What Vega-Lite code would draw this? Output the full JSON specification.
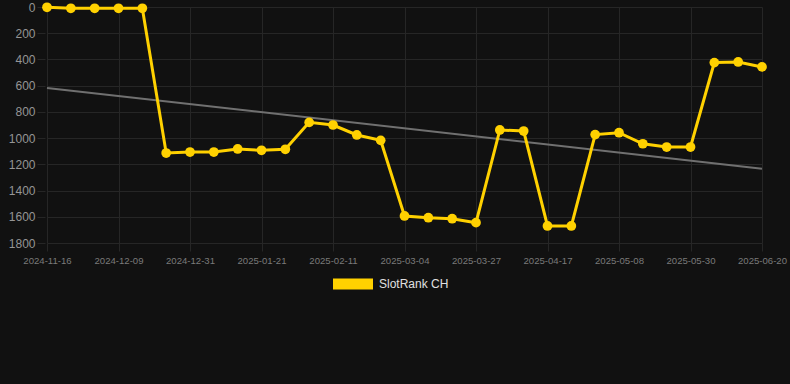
{
  "$schema": "https://vega.github.io/schema/vega-lite/v6.json",
  "autosize": "none",
  "width": 745,
  "height": 236,
  "padding": {"left": 45, "top": 7, "right": 0, "bottom": 141},
  "background": "#111111",
  "datasets": {
    "ranks": [
      {"date": "2024-11-16", "rank": 2, "series": "SlotRank CH"},
      {"date": "2024-11-24", "rank": 10, "series": "SlotRank CH"},
      {"date": "2024-12-01", "rank": 10, "series": "SlotRank CH"},
      {"date": "2024-12-09", "rank": 10, "series": "SlotRank CH"},
      {"date": "2024-12-16", "rank": 10, "series": "SlotRank CH"},
      {"date": "2024-12-23", "rank": 1114, "series": "SlotRank CH"},
      {"date": "2024-12-31", "rank": 1106, "series": "SlotRank CH"},
      {"date": "2025-01-07", "rank": 1106, "series": "SlotRank CH"},
      {"date": "2025-01-14", "rank": 1083, "series": "SlotRank CH"},
      {"date": "2025-01-21", "rank": 1093, "series": "SlotRank CH"},
      {"date": "2025-01-28", "rank": 1085, "series": "SlotRank CH"},
      {"date": "2025-02-04", "rank": 880, "series": "SlotRank CH"},
      {"date": "2025-02-11", "rank": 900, "series": "SlotRank CH"},
      {"date": "2025-02-18", "rank": 976, "series": "SlotRank CH"},
      {"date": "2025-02-25", "rank": 1017, "series": "SlotRank CH"},
      {"date": "2025-03-04", "rank": 1594, "series": "SlotRank CH"},
      {"date": "2025-03-12", "rank": 1607, "series": "SlotRank CH"},
      {"date": "2025-03-19", "rank": 1615, "series": "SlotRank CH"},
      {"date": "2025-03-27", "rank": 1645, "series": "SlotRank CH"},
      {"date": "2025-04-03", "rank": 938, "series": "SlotRank CH"},
      {"date": "2025-04-10", "rank": 946, "series": "SlotRank CH"},
      {"date": "2025-04-17", "rank": 1670, "series": "SlotRank CH"},
      {"date": "2025-04-24", "rank": 1670, "series": "SlotRank CH"},
      {"date": "2025-05-01", "rank": 973, "series": "SlotRank CH"},
      {"date": "2025-05-08", "rank": 959, "series": "SlotRank CH"},
      {"date": "2025-05-15", "rank": 1043, "series": "SlotRank CH"},
      {"date": "2025-05-22", "rank": 1068, "series": "SlotRank CH"},
      {"date": "2025-05-30", "rank": 1068, "series": "SlotRank CH"},
      {"date": "2025-06-06", "rank": 424, "series": "SlotRank CH"},
      {"date": "2025-06-13", "rank": 419, "series": "SlotRank CH"},
      {"date": "2025-06-20", "rank": 457, "series": "SlotRank CH"}
    ],
    "trend": [
      {"date": "2024-11-16", "rank": 617},
      {"date": "2025-06-20", "rank": 1233}
    ]
  },
  "config": {
    "view": {"stroke": null},
    "font": "Liberation Sans",
    "axis": {
      "domain": false,
      "gridColor": "#262626",
      "gridWidth": 1,
      "tickColor": "#262626",
      "tickSize": 8,
      "labelFont": "Liberation Sans",
      "title": null
    }
  },
  "encoding": {
    "x": {
      "field": "date",
      "type": "ordinal",
      "sort": null,
      "scale": {
        "type": "point",
        "range": [2, 717],
        "padding": 0,
        "domain": ["2024-11-16", "2024-11-24", "2024-12-01", "2024-12-09", "2024-12-16", "2024-12-23", "2024-12-31", "2025-01-07", "2025-01-14", "2025-01-21", "2025-01-28", "2025-02-04", "2025-02-11", "2025-02-18", "2025-02-25", "2025-03-04", "2025-03-12", "2025-03-19", "2025-03-27", "2025-04-03", "2025-04-10", "2025-04-17", "2025-04-24", "2025-05-01", "2025-05-08", "2025-05-15", "2025-05-22", "2025-05-30", "2025-06-06", "2025-06-13", "2025-06-20"]
      },
      "axis": {
        "values": ["2024-11-16", "2024-12-09", "2024-12-31", "2025-01-21", "2025-02-11", "2025-03-04", "2025-03-27", "2025-04-17", "2025-05-08", "2025-05-30", "2025-06-20"],
        "labelAngle": 0,
        "labelFontSize": 9.6,
        "labelColor": "#7a7a7a",
        "labelPadding": 4,
        "labelOverlap": false,
        "grid": true,
        "title": null
      }
    },
    "y": {
      "field": "rank",
      "type": "quantitative",
      "scale": {"domain": [0, 1800], "reverse": true, "nice": false, "zero": false},
      "axis": {
        "values": [0, 200, 400, 600, 800, 1000, 1200, 1400, 1600, 1800],
        "format": "d",
        "labelFontSize": 12,
        "labelColor": "#959595",
        "labelPadding": 2,
        "grid": true,
        "title": null
      }
    }
  },
  "layer": [
    {
      "data": {"name": "trend"},
      "mark": {"type": "line", "color": "#707070", "strokeWidth": 2}
    },
    {
      "data": {"name": "ranks"},
      "mark": {"type": "line", "strokeWidth": 3},
      "encoding": {
        "color": {
          "field": "series",
          "type": "nominal",
          "scale": {"domain": ["SlotRank CH"], "range": ["#FFD100"]},
          "legend": {
            "orient": "none",
            "legendX": 288,
            "legendY": 257,
            "title": null,
            "padding": 0,
            "labelFontSize": 12,
            "labelColor": "#e0e0e0",
            "labelFont": "Liberation Sans",
            "labelOffset": 6,
            "symbolType": "M-1,-0.275H1V0.275H-1Z",
            "symbolSize": 1600,
            "encode": {
              "symbols": {
                "update": {
                  "fill": {"value": "#FFD100"},
                  "fillOpacity": {"value": 1},
                  "stroke": {"value": "#FFD100"},
                  "strokeWidth": {"value": 0},
                  "shape": {"value": "M-1,-0.275H1V0.275H-1Z"},
                  "size": {"value": 1600}
                }
              }
            }
          }
        }
      }
    },
    {
      "data": {"name": "ranks"},
      "mark": {"type": "point", "filled": true, "size": 95, "opacity": 1, "color": "#FFD100"}
    }
  ]
}
